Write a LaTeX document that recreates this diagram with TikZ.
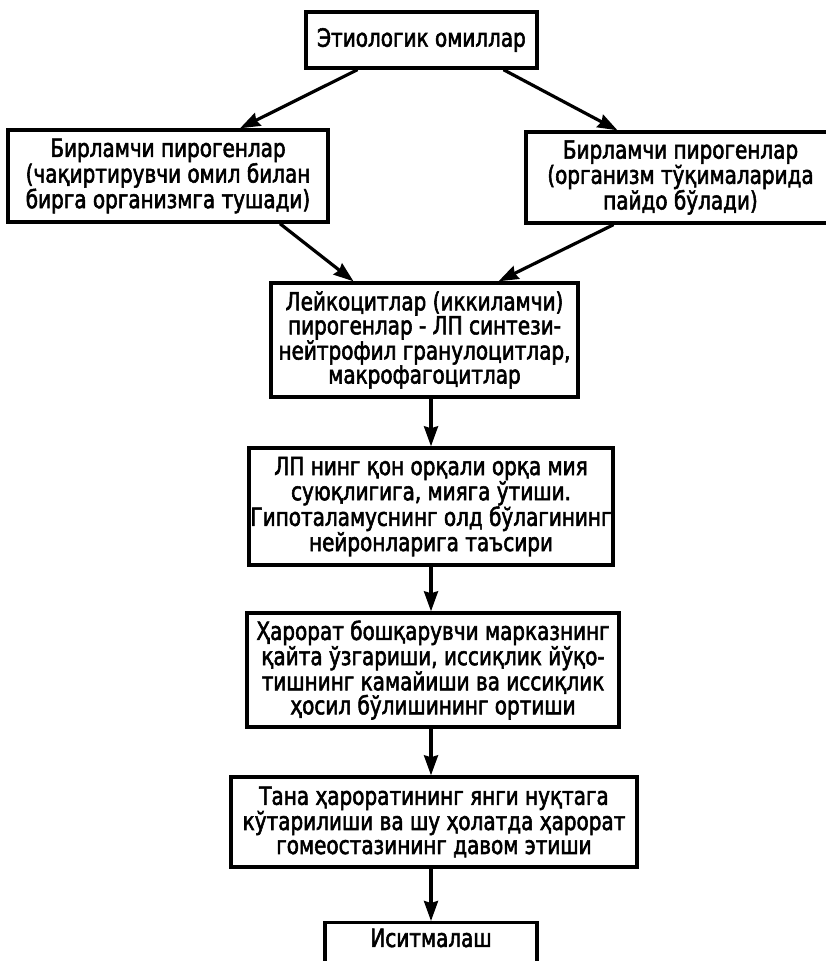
\documentclass[tikz,border=0pt]{standalone}
\usepackage{fontspec}
\setmainfont{DejaVu Sans}[FakeStretch=0.8,FakeBold=2.2]
\usetikzlibrary{arrows.meta, positioning}

\begin{document}
\begin{tikzpicture}[x=1pt, y=-1pt,
    stage/.style={rectangle, draw, line width=3.4pt, align=center, inner sep=0pt,
                  font=\fontsize{25}{24}\selectfont},
    arr/.style={-{Stealth[length=20pt, width=14pt, inset=2pt]}, line width=3.2pt}]
    \clip (0,0) rectangle (826,961);
    % Nodes
    \node [stage, minimum width=231, minimum height=56] (cause) at (421.5,40) {Этиологик омиллар};
    \node [stage, minimum width=320, minimum height=92] (primL) at (168,176)
        {Бирламчи пирогенлар\\(чақиртирувчи омил билан\\бирга организмга тушади)};
    \node [stage, minimum width=309, minimum height=91] (primR) at (680.5,177.5)
        {Бирламчи пирогенлар\\(организм тўқималарида\\пайдо бўлади)};
    \node [stage, minimum width=307, minimum height=114] (lp) at (424.5,340)
        {Лейкоцитлар (иккиламчи)\\пирогенлар - ЛП синтези-\\нейтрофил гранулоцитлар,\\макрофагоцитлар};
    \node [stage, minimum width=364, minimum height=117] (brain) at (431,506.5)
        {ЛП нинг қон орқали орқа мия\\суюқлигига, мияга ўтиши.\\Гипоталамуснинг олд бўлагининг\\нейронларига таъсири};
    \node [stage, minimum width=372, minimum height=114] (centre) at (433,670)
        {Ҳарорат бошқарувчи марказнинг\\қайта ўзгариши, иссиқлик йўқо-\\тишнинг камайиши ва иссиқлик\\ҳосил бўлишининг ортиши};
    \node [stage, minimum width=406, minimum height=90] (rise) at (434,822)
        {Тана ҳароратининг янги нуқтага\\кўтарилиши ва шу ҳолатда ҳарорат\\гомеостазининг давом этиши};
    \node [stage, minimum width=212, anchor=north, inner ysep=6pt, text depth=30pt] (fever) at (431,921)
        {Иситмалаш};

    % Edges
    \draw [arr] ([xshift=-64pt]cause.south) -- ([xshift=72pt]primL.north);
    \draw [arr] ([xshift=82pt]cause.south) -- ([xshift=-63pt]primR.north);
    \draw [arr] ([xshift=112pt]primL.south) -- ([xshift=-71pt]lp.north);
    \draw [arr] ([xshift=-67pt]primR.south) -- ([xshift=74pt]lp.north);
    \draw [arr] (lp.south -| brain.north) -- (brain.north);
    \draw [arr] (brain.south) -- (brain.south |- centre.north);
    \draw [arr] (centre.south -| brain.south) -- (brain.south |- rise.north);
    \draw [arr] (rise.south -| fever.north) -- (fever.north);
\end{tikzpicture}
\end{document}
